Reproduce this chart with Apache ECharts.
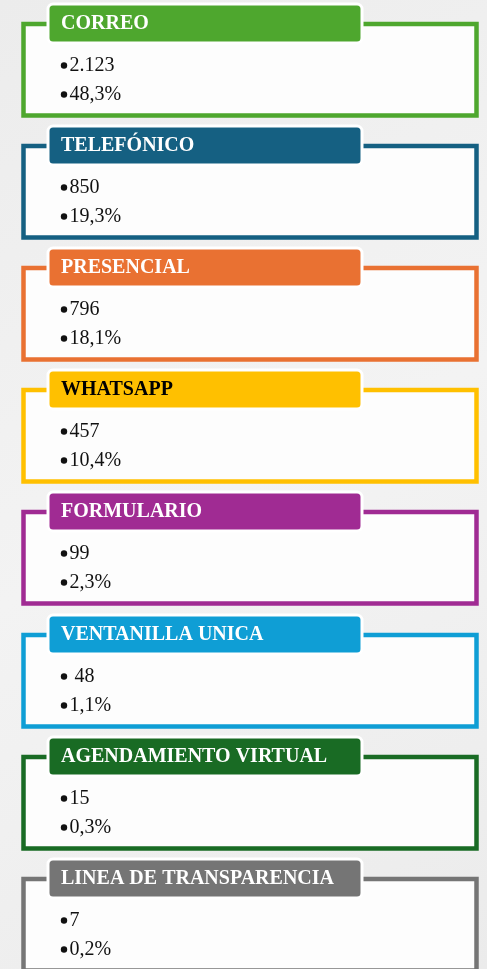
<!DOCTYPE html>
<html>
<head>
<meta charset="utf-8">
<script src="https://cdn.jsdelivr.net/npm/echarts@6/dist/echarts.min.js"></script>
<style>
  html, body { margin: 0; padding: 0; }
  body { background: #efefef; }
  #main { width: 487px; height: 969px; }
</style>
</head>
<body>
<div id="main"></div>
<script>
// canales de atencion
var categorias = ['CORREO', 'TELEFÓNICO', 'PRESENCIAL', 'WHATSAPP', 'FORMULARIO',
                  'VENTANILLA UNICA', 'AGENDAMIENTO VIRTUAL', 'LINEA DE TRANSPARENCIA'];
var cantidades = [2123, 850, 796, 457, 99, 48, 15, 7];
var porcentajes = [48.3, 19.3, 18.1, 10.4, 2.3, 1.1, 0.3, 0.2];

var colores = ['#4EA72E', '#156082', '#E97132', '#FFC000', '#A02B93', '#0F9ED5', '#196B24', '#757575'];
var colorTitulo = ['#fff', '#fff', '#fff', '#000', '#fff', '#fff', '#fff', '#fff'];

function miles(n) {
    return String(n).replace(/\B(?=(\d{3})+(?!\d))/g, '.');
}
function pct(p) {
    return p.toFixed(1).replace('.', ',') + '%';
}

var myChart = echarts.init(document.getElementById('main'));

var option = {
    backgroundColor: new echarts.graphic.LinearGradient(0, 0, 1, 1, [
        { offset: 0, color: '#ececec' },
        { offset: 0.5, color: '#f3f3f3' },
        { offset: 1, color: '#ebebeb' }
    ]),
    animation: false,
    grid: { left: 0, right: 0, top: 0, bottom: 0 },
    xAxis: { type: 'value', min: 0, max: 1, show: false },
    // each card takes ~122px of the 969px page
    yAxis: { type: 'value', inverse: true, min: -0.5, max: -0.5 + 969 / 122.1, show: false },
    series: [{
        type: 'custom',
        clip: false,
        data: cantidades.map(function (v, i) { return [0, i, v, porcentajes[i]]; }),
        renderItem: function (params, api) {
            var i = api.value(1);
            var cy = api.coord([0, i])[1];
            var top = Math.round(cy - 61);
            var c = colores[i];
            var txt1 = (i === 5 ? ' ' : '') + miles(api.value(2));
            var cuerpo = {
                fill: '#111',
                font: '20px "Liberation Serif", serif',
                verticalAlign: 'middle'
            };
            return {
                type: 'group',
                children: [
                    {
                        type: 'rect',
                        shape: { x: 23.5, y: top + 24, width: 453, height: 91.5 },
                        style: { fill: '#fdfdfd', stroke: c, lineWidth: 4.5 }
                    },
                    {
                        type: 'rect',
                        shape: { x: 48, y: top + 4, width: 314, height: 39, r: 5 },
                        style: { fill: c, stroke: '#ffffff', lineWidth: 3 }
                    },
                    {
                        type: 'text',
                        x: 61, y: top + 24,
                        style: {
                            text: categorias[i],
                            fill: colorTitulo[i],
                            font: 'bold 20px "Liberation Serif", serif',
                            verticalAlign: 'middle'
                        }
                    },
                    {
                        type: 'circle',
                        shape: { cx: 64, cy: top + 65.5, r: 3.2 },
                        style: { fill: '#111' }
                    },
                    {
                        type: 'text',
                        x: 69.5, y: top + 66,
                        style: Object.assign({ text: txt1 }, cuerpo)
                    },
                    {
                        type: 'circle',
                        shape: { cx: 64, cy: top + 94.5, r: 3.2 },
                        style: { fill: '#111' }
                    },
                    {
                        type: 'text',
                        x: 69.5, y: top + 95,
                        style: Object.assign({ text: pct(api.value(3)) }, cuerpo)
                    }
                ]
            };
        }
    }]
};

myChart.setOption(option);
</script>
</body>
</html>
